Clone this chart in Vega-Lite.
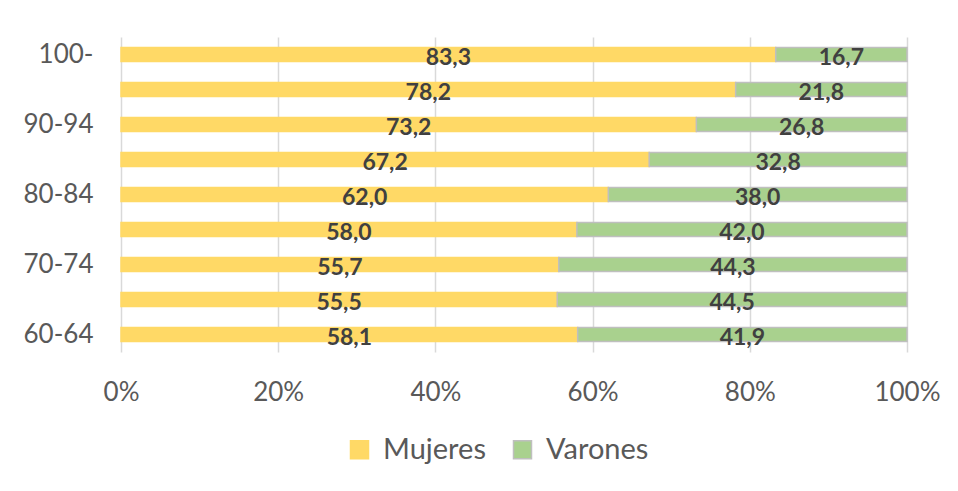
{
  "$schema": "https://vega.github.io/schema/vega-lite/v6.json",
  "autosize": "none",
  "width": 786,
  "height": 315,
  "padding": {"left": 121, "top": 37, "right": 51, "bottom": 139},
  "background": "white",
  "config": {
    "font": "Lato",
    "view": {"stroke": null},
    "locale": {"number": {"decimal": ",", "thousands": ".", "grouping": [3], "currency": ["", " €"]}}
  },
  "data": {
    "values": [
      {"edad": "100-", "sexo": "Mujeres", "pct": 83.3},
      {"edad": "100-", "sexo": "Varones", "pct": 16.7},
      {"edad": "95-99", "sexo": "Mujeres", "pct": 78.2},
      {"edad": "95-99", "sexo": "Varones", "pct": 21.8},
      {"edad": "90-94", "sexo": "Mujeres", "pct": 73.2},
      {"edad": "90-94", "sexo": "Varones", "pct": 26.8},
      {"edad": "85-89", "sexo": "Mujeres", "pct": 67.2},
      {"edad": "85-89", "sexo": "Varones", "pct": 32.8},
      {"edad": "80-84", "sexo": "Mujeres", "pct": 62.0},
      {"edad": "80-84", "sexo": "Varones", "pct": 38.0},
      {"edad": "75-79", "sexo": "Mujeres", "pct": 58.0},
      {"edad": "75-79", "sexo": "Varones", "pct": 42.0},
      {"edad": "70-74", "sexo": "Mujeres", "pct": 55.7},
      {"edad": "70-74", "sexo": "Varones", "pct": 44.3},
      {"edad": "65-69", "sexo": "Mujeres", "pct": 55.5},
      {"edad": "65-69", "sexo": "Varones", "pct": 44.5},
      {"edad": "60-64", "sexo": "Mujeres", "pct": 58.1},
      {"edad": "60-64", "sexo": "Varones", "pct": 41.9}
    ]
  },
  "encoding": {
    "y": {
      "field": "edad",
      "type": "nominal",
      "sort": ["100-", "95-99", "90-94", "85-89", "80-84", "75-79", "70-74", "65-69", "60-64"],
      "scale": {"paddingInner": 0.6, "paddingOuter": 0.3},
      "axis": {
        "title": null,
        "values": ["100-", "90-94", "80-84", "70-74", "60-64"],
        "ticks": false,
        "domain": false,
        "grid": false,
        "labelFontSize": 26,
        "labelColor": "#595959",
        "labelPadding": 28
      }
    }
  },
  "layer": [
    {
      "mark": {"type": "bar", "strokeWidth": 1.5},
      "encoding": {
        "x": {
          "field": "pct",
          "type": "quantitative",
          "stack": "normalize",
          "scale": {"domain": [0, 1]},
          "axis": {
            "title": null,
            "format": "%",
            "values": [0, 0.2, 0.4, 0.6, 0.8, 1],
            "domain": false,
            "ticks": false,
            "grid": true,
            "gridColor": "#d9d9d9",
            "gridWidth": 1.5,
            "labelFontSize": 26,
            "labelColor": "#595959",
            "labelFlush": false,
            "labelAlign": "center",
            "labelPadding": 27
          }
        },
        "color": {
          "field": "sexo",
          "type": "nominal",
          "scale": {"domain": ["Mujeres", "Varones"], "range": ["#FFD966", "#A9D18E"]},
          "legend": {
            "title": null,
            "orient": "none",
            "direction": "horizontal",
            "legendX": 224,
            "legendY": 398,
            "symbolType": "square",
            "symbolSize": 324,
            "symbolStrokeWidth": 1.5,
            "labelFontSize": 29,
            "labelColor": "#595959",
            "columnPadding": 22,
            "labelOffset": 9
          }
        },
        "stroke": {
          "field": "sexo",
          "type": "nominal",
          "scale": {"domain": ["Mujeres", "Varones"], "range": ["#FFD966", "#BFBFBF"]},
          "legend": {
            "title": null,
            "orient": "none",
            "direction": "horizontal",
            "legendX": 224,
            "legendY": 398,
            "symbolType": "square",
            "symbolSize": 324,
            "symbolStrokeWidth": 1.5,
            "labelFontSize": 29,
            "labelColor": "#595959",
            "columnPadding": 22,
            "labelOffset": 9
          }
        }
      }
    },
    {
      "transform": [
        {"stack": "pct", "groupby": ["edad"], "sort": [{"field": "sexo", "order": "ascending"}], "offset": "normalize", "as": ["v0", "v1"]},
        {"calculate": "(datum.v0 + datum.v1) / 2", "as": "mid"}
      ],
      "mark": {"type": "text", "fontWeight": "bold", "fontSize": 23, "color": "#404040", "baseline": "middle", "dy": 3},
      "encoding": {
        "x": {"field": "mid", "type": "quantitative"},
        "text": {"field": "pct", "type": "quantitative", "format": ".1f"}
      }
    }
  ]
}
